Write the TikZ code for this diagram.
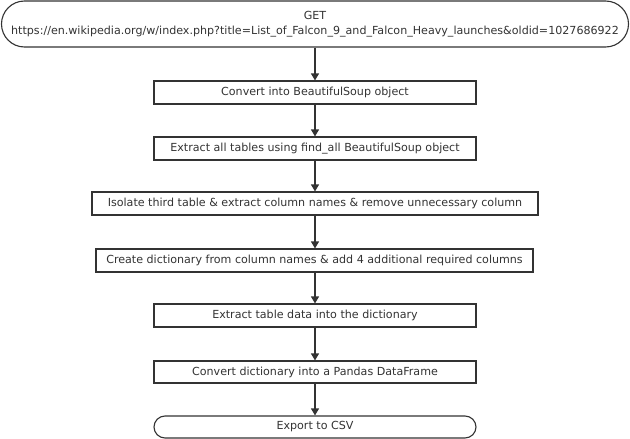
\documentclass[tikz,border=0pt]{standalone}
\usepackage{fontspec}
\setmainfont{DejaVu Sans}
\usetikzlibrary{arrows.meta}
\definecolor{ln}{HTML}{333333}
\definecolor{tx}{HTML}{333333}
\tikzset{
  box/.style={draw=ln, line width=1.1pt, fill=white, text=tx, font=\fontsize{11.1}{14.5}\selectfont, inner sep=0pt, minimum height=23pt, align=center},
  term/.style={box, rounded corners=11pt},
  conn/.style={draw=ln, line width=1.1pt, -{Triangle[length=7pt,width=8pt]}}
}
\begin{document}
\begin{tikzpicture}[x=1pt,y=-1pt]
\useasboundingbox (0,0) rectangle (630,439);
\node[term, rounded corners=23pt, minimum width=627pt, minimum height=46pt] (get) at (315,24) {GET\\https://en.wikipedia.org/w/index.php?title=List\_of\_Falcon\_9\_and\_Falcon\_Heavy\_launches\&oldid=1027686922};
\node[box, minimum width=322pt] (b1) at (315,92.5) {Convert into BeautifulSoup object};
\node[box, minimum width=322pt] (b2) at (315,148.5) {Extract all tables using find\_all BeautifulSoup object};
\node[box, minimum width=446pt] (b3) at (315,203.5) {Isolate third table \& extract column names \& remove unnecessary column};
\node[box, minimum width=437pt] (b4) at (314.5,260.5) {Create dictionary from column names \& add 4 additional required columns};
\node[box, minimum width=322pt] (b5) at (315,315.5) {Extract table data into the dictionary};
\node[box, minimum width=322pt, minimum height=22pt] (b6) at (315,372) {Convert dictionary into a Pandas DataFrame};
\node[term, minimum width=322pt, minimum height=22pt] (csv) at (315,427) {Export to CSV};
\draw[conn] (get) -- (b1);
\draw[conn] (b1) -- (b2);
\draw[conn] (b2) -- (b3);
\draw[conn] (b3) -- (b4.north -| b3.south);
\draw[conn] (b4.south -| b5.north) -- (b5);
\draw[conn] (b5) -- (b6);
\draw[conn] (b6) -- (csv);
\end{tikzpicture}
\end{document}
